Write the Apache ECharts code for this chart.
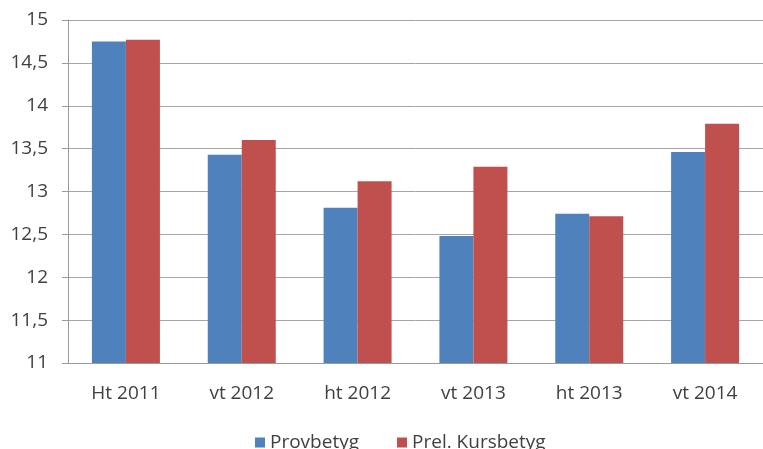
<!DOCTYPE html>
<html>
<head>
<meta charset="utf-8">
<script src="https://cdn.jsdelivr.net/npm/echarts@6/dist/echarts.min.js"></script>
<style>
html, body { margin: 0; padding: 0; background: #fff; }
#chart { width: 763px; height: 449px; }
</style>
</head>
<body>
<div id="chart"></div>
<script>
var categories = ['Ht 2011', 'vt 2012', 'ht 2012', 'vt 2013', 'ht 2013', 'vt 2014'];
var provbetyg = [14.75, 13.43, 12.81, 12.48, 12.74, 13.46];
var kursbetyg = [14.77, 13.60, 13.12, 13.29, 12.71, 13.79];

var chart = echarts.init(document.getElementById('chart'));
var font = '"Open Sans", "Liberation Sans", sans-serif';
chart.setOption({
  animation: false,
  textStyle: { fontFamily: font },
  grid: { left: 68, top: 20, width: 700, height: 343 },
  legend: {
    top: 428,
    left: 250,
    itemWidth: 10,
    itemHeight: 10,
    itemGap: 38,
    icon: 'rect',
    textStyle: { fontSize: 19, color: '#404040', fontFamily: font },
    data: ['Provbetyg', 'Prel. Kursbetyg']
  },
  xAxis: {
    type: 'category',
    data: categories,
    axisLine: { lineStyle: { color: '#9a9a9a', width: 1 } },
    axisTick: { length: 6, lineStyle: { color: '#9a9a9a' } },
    axisLabel: { fontSize: 19, color: '#404040', margin: 21, fontFamily: font }
  },
  yAxis: {
    type: 'value',
    min: 11,
    max: 15,
    interval: 0.5,
    axisLine: { show: true, lineStyle: { color: '#9a9a9a' } },
    axisTick: { show: true, length: 6, lineStyle: { color: '#9a9a9a' } },
    splitLine: { lineStyle: { color: '#a6a6a6' } },
    axisLabel: {
      fontSize: 19, color: '#404040', margin: 20, fontFamily: font,
      formatter: function (v) { return String(v).replace('.', ','); }
    }
  },
  series: [
    {
      name: 'Provbetyg',
      type: 'bar',
      data: provbetyg,
      barWidth: 34,
      barGap: '0%',
      itemStyle: { color: '#4F81BD' }
    },
    {
      name: 'Prel. Kursbetyg',
      type: 'bar',
      data: kursbetyg,
      barWidth: 34,
      itemStyle: { color: '#C0504D' }
    }
  ]
});
</script>
</body>
</html>
